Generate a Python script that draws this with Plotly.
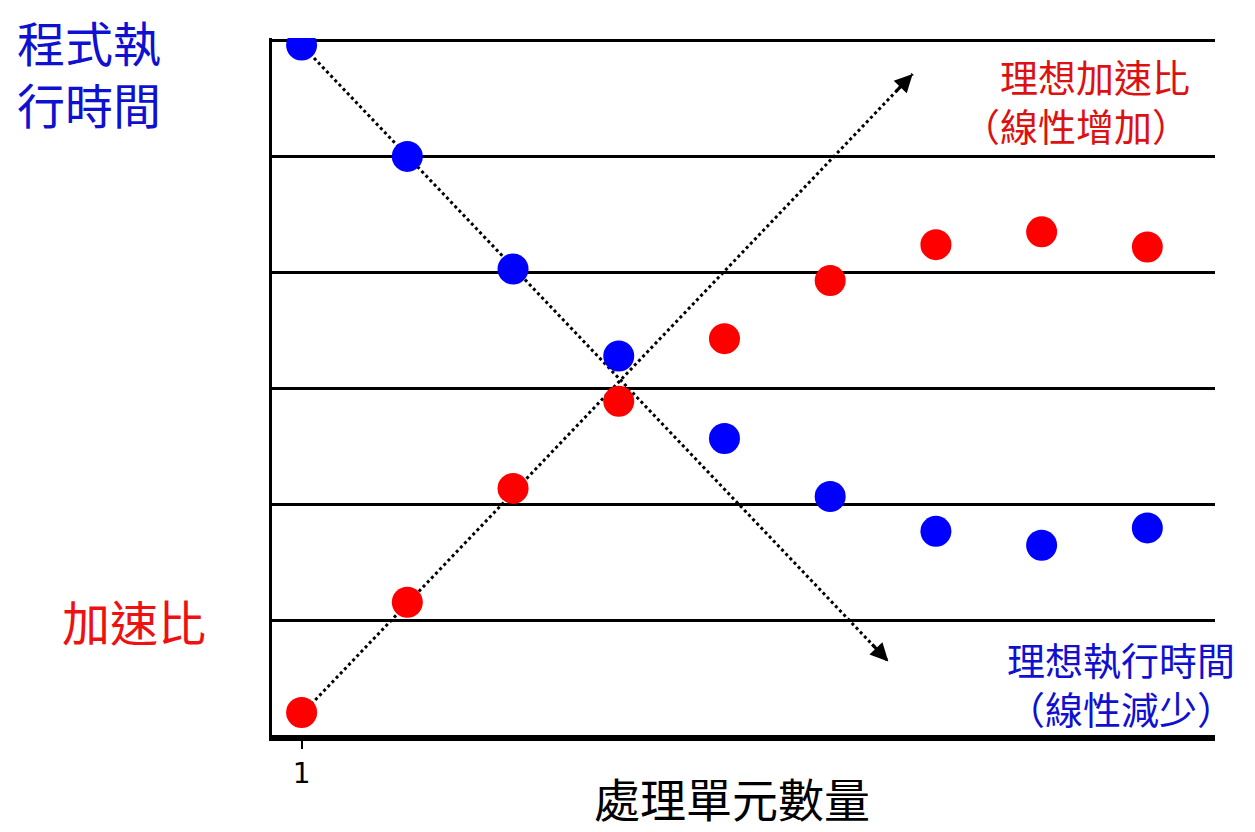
import plotly.graph_objects as go

# processor counts (tick "1" is the first)
procs = [1, 2, 3, 4, 5, 6, 7, 8, 9]
exec_time = [5.96, 5.0, 4.03, 3.28, 2.57, 2.07, 1.77, 1.65, 1.8]
speedup = [0.21, 1.16, 2.14, 2.89, 3.43, 3.93, 4.24, 4.35, 4.22]

# ideal lines (start, end)
ideal_time_x = [1.0, 6.55]
ideal_time_y = [5.96, 0.65]
ideal_speed_x = [1.09, 6.78]
ideal_speed_y = [0.28, 5.71]

FONT = "Noto Sans CJK TC"
OFF = 8  # page body margin
W, H = 1255, 832
L, R, T, B = 272 - OFF, 40 + OFF, 38 - OFF, 94 + OFF
pw, ph = W - L - R, H - T - B

def px(x):
    return (x - OFF - L) / pw

def py(y):
    return (H - B - (y - OFF)) / ph

fig = go.Figure()
fig.add_trace(go.Scatter(x=ideal_time_x, y=ideal_time_y, mode="lines",
                         line=dict(color="black", width=3, dash="dot"), showlegend=False))
fig.add_trace(go.Scatter(x=ideal_speed_x, y=ideal_speed_y, mode="lines",
                         line=dict(color="black", width=3, dash="dot"), showlegend=False))
fig.add_trace(go.Scatter(x=procs, y=exec_time, mode="markers",
                         marker=dict(color="#0000ff", size=31), showlegend=False))
fig.add_trace(go.Scatter(x=procs, y=speedup, mode="markers",
                         marker=dict(color="#ff0000", size=31), showlegend=False))

# arrowheads
for xs, ys in [(ideal_time_x, ideal_time_y), (ideal_speed_x, ideal_speed_y)]:
    fig.add_annotation(x=xs[1], y=ys[1], ax=xs[1] - (xs[1] - xs[0]) * 0.03,
                       ay=ys[1] - (ys[1] - ys[0]) * 0.03, xref="x", yref="y",
                       axref="x", ayref="y", text="", showarrow=True,
                       arrowhead=2, arrowsize=1.2, arrowwidth=3, arrowcolor="black")

texts = [
    ("程式執<br>行時間", 15, 72, "#1010d0", 48, "left"),
    ("加速比", 60, 620, "#ee1111", 48, "left"),
    ("理想加速比<br>（線性增加）", 1192, 100, "#dd1111", 38, "right"),
    ("理想執行時間<br>（線性減少）", 1237, 683, "#1010d0", 38, "right"),
    ("處理單元數量", 732, 797, "black", 46, "center"),
]
for t, x, y, c, s, a in texts:
    fig.add_annotation(x=px(x), y=py(y), xref="paper", yref="paper", text=t,
                       showarrow=False, xanchor=a, yanchor="middle", align=a,
                       font=dict(family=FONT, size=s, color=c))

fig.update_xaxes(range=[0.72, 9.64], tickvals=[1], ticktext=["1"], showgrid=False,
                 zeroline=False, showline=True, linecolor="black", linewidth=3,
                 ticks="outside", tickcolor="black",
                 ticklen=8, tickwidth=2, tickfont=dict(family="DejaVu Sans", size=28, color="black"))
fig.update_yaxes(range=[-0.01, 6.02], tickvals=[0, 1, 2, 3, 4, 5, 6], showticklabels=False,
                 showgrid=True, gridcolor="black", gridwidth=3, zeroline=False,
                 showline=True, linecolor="black", linewidth=3)
fig.update_layout(width=W, height=H, margin=dict(l=L, r=R, t=T, b=B),
                  plot_bgcolor="white", paper_bgcolor="white")
fig.write_html("out.html")
